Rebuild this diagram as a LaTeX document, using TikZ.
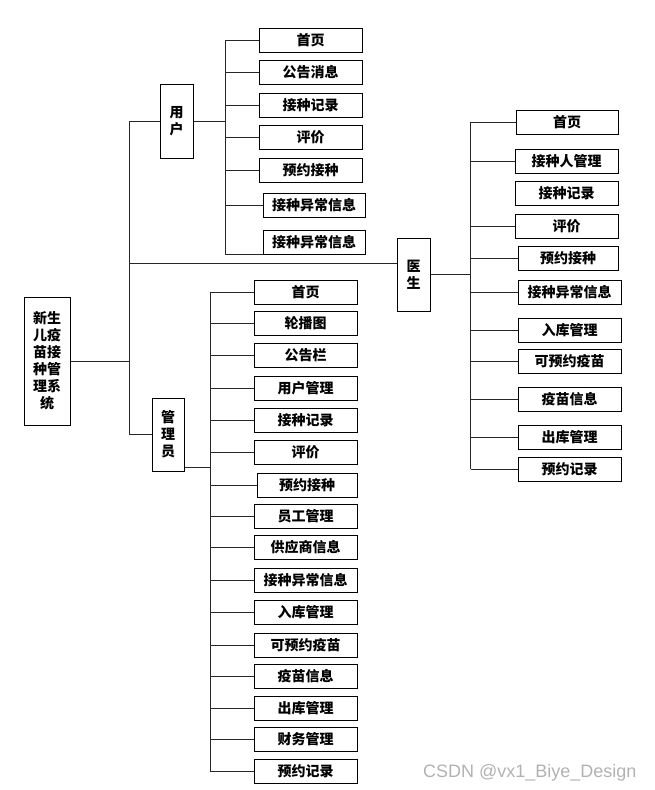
\documentclass[tikz,border=0pt]{standalone}
\usepackage{fontspec}
\newfontfamily\cjk{Noto Sans CJK SC}
\newfontfamily\wmfont{Liberation Sans}
\tikzset{
  box/.style={draw, line width=1pt, minimum width=103pt, minimum height=24pt, inner sep=0pt,
    font=\cjk\bfseries\fontsize{14}{17}\selectfont},
  tall/.style={box, align=center, minimum width=33pt, minimum height=74pt},
  link/.style={line width=1pt, black!85}
}
\begin{document}
\begin{tikzpicture}[x=1pt, y=-1pt]
            \pgfmathsetmacro{\xm}{129}
            \pgfmathsetmacro{\xu}{225.5}
            \pgfmathsetmacro{\xd}{470.5}
            \pgfmathsetmacro{\xa}{210}
            \useasboundingbox (0,0) rectangle (655,790);

            \coordinate (M) at (\xm, 0);
            \coordinate (U) at (\xu, 0);
            \coordinate (D) at (\xd, 0);
            \coordinate (A) at (\xa, 0);

            \node[tall, minimum width=46pt, minimum height=128pt] (root) at (47, 361) {新生\\儿疫\\苗接\\种管\\理系\\统};
            \node[tall] (user) at (176.5, 121) {用\\户};
            \node[tall, minimum height=73pt] (doctor) at (413.5, 274.5) {医\\生};
            \node[tall, minimum width=32pt, minimum height=73pt] (admin) at (168, 434.5) {管\\理\\员};

            \node[box] (u1) at (310.5, 40) {首页};
            \node[box] (u2) at (310.5, 72.5) {公告消息};
            \node[box] (u3) at (310.5, 105) {接种记录};
            \node[box] (u4) at (310.5, 137.5) {评价};
            \node[box] (u5) at (310.5, 170) {预约接种};
            \node[box, minimum width=102pt] (u6) at (314, 205) {接种异常信息};
            \node[box, minimum width=102pt] (u7) at (314, 242) {接种异常信息};

            \node[box, minimum width=102pt] (d1) at (567, 122) {首页};
            \node[box] (d2) at (566.5, 161) {接种人管理};
            \node[box] (d3) at (566.5, 193.5) {接种记录};
            \node[box] (d4) at (566.5, 226) {评价};
            \node[box, minimum width=100pt] (d5) at (568, 258.5) {预约接种};
            \node[box] (d6) at (569.5, 292) {接种异常信息};
            \node[box] (d7) at (569.5, 330) {入库管理};
            \node[box] (d8) at (569.5, 361) {可预约疫苗};
            \node[box] (d9) at (569.5, 399) {疫苗信息};
            \node[box] (d10) at (569.5, 437) {出库管理};
            \node[box] (d11) at (569.5, 469) {预约记录};

            \node[box] (a1) at (305.5, 292) {首页};
            \node[box] (a2) at (305.5, 323.5) {轮播图};
            \node[box] (a3) at (305.5, 355) {公告栏};
            \node[box] (a4) at (305.5, 388) {用户管理};
            \node[box] (a5) at (305.5, 420) {接种记录};
            \node[box] (a6) at (305.5, 452.5) {评价};
            \node[box, minimum width=100pt] (a7) at (307, 485) {预约接种};
            \node[box] (a8) at (305.5, 516.5) {员工管理};
            \node[box] (a9) at (305.5, 547.5) {供应商信息};
            \node[box] (a10) at (305.5, 580) {接种异常信息};
            \node[box] (a11) at (305.5, 612.5) {入库管理};
            \node[box] (a12) at (305.5, 645) {可预约疫苗};
            \node[box] (a13) at (305.5, 676.5) {疫苗信息};
            \node[box] (a14) at (305.5, 708) {出库管理};
            \node[box] (a15) at (305.5, 739) {财务管理};
            \node[box] (a16) at (305.5, 771) {预约记录};

            \coordinate (D0) at ([yshift=11.5pt]doctor.west);
            \coordinate (A0) at ([yshift=-32.5pt]admin.east);

            \draw[link] (root.east) -- (root.east -| M);
            \draw[link] (user.west -| M) -- (admin.west -| M);
            \draw[link] (user.west -| M) -- (user.west);
            \draw[link] (D0 -| M) -- (D0);
            \draw[link] (admin.west -| M) -- (admin.west);

            \draw[link] (user.east) -- (user.east -| U);
            \draw[link] (u1.west -| U) -- (u7.south west -| U) -- (u7.south west);
            \foreach \i in {1,...,6} \draw[link] (u\i.west -| U) -- (u\i.west);

            \draw[link] (doctor.east) -- (doctor.east -| D);
            \draw[link] (d1.west -| D) -- (d11.west -| D);
            \foreach \i in {1,2,4,5,6,7,8,9,10,11} \draw[link] (d\i.west -| D) -- (d\i.west);

            \draw[link] (A0) -- (A0 -| A);
            \draw[link] (a1.west -| A) -- (a16.west -| A);
            \foreach \i in {1,...,16} \draw[link] (a\i.west -| A) -- (a\i.west);

            \node[font=\wmfont\fontsize{18}{20}\selectfont, text=black!30, anchor=base west, inner sep=0pt] (mark) at (423, 777) {CSDN @vx1\_Biye\_Design};
\end{tikzpicture}
\end{document}
